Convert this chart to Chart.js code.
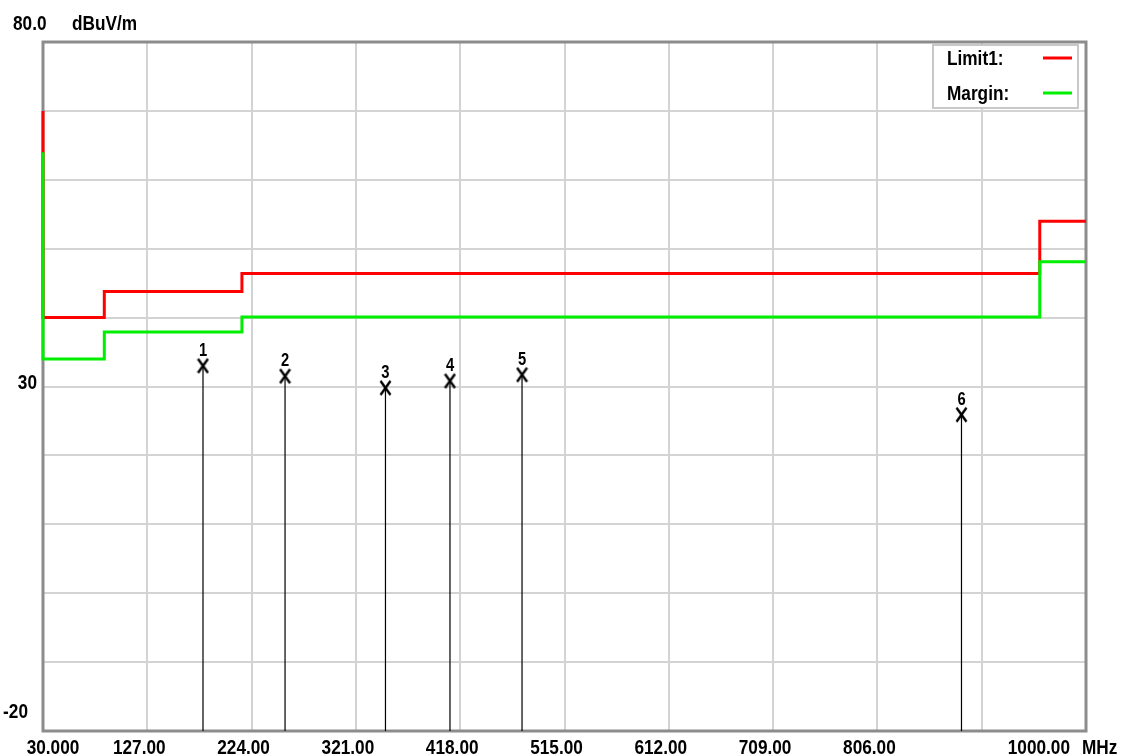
<!DOCTYPE html>
<html lang="en">
<head>
<meta charset="UTF-8">
<title>Radiated Emission</title>
<script src="https://cdn.jsdelivr.net/npm/chart.js@4.4.0/dist/chart.umd.min.js"></script>
<style>
body{margin:0;background:#fff}
#wrap{width:1123px;height:756px;position:relative}
</style>
</head>
<body>
<div id="wrap"><canvas id="emi"></canvas></div>
<script>
/* ---------- data ---------- */
const limitFreq   = [30, 30, 87, 87, 215, 215, 957, 957, 1000];
const limitLevel  = [70, 40, 40, 43.8, 43.8, 46.4, 46.4, 54, 54];
const marginLevel = [64, 34, 34, 37.9, 37.9, 40.1, 40.1, 48.1, 48.1];

const peakNo    = ['1', '2', '3', '4', '5', '6'];
const peakFreq  = [178.8, 255.1, 348.5, 408.5, 475.5, 884.2];
const peakLevel = [33.0, 31.5, 29.8, 30.8, 31.7, 25.9];

const xTicks      = [30, 127, 224, 321, 418, 515, 612, 709, 806, 1000];
const xTickLabels = ['30.000', '127.00', '224.00', '321.00', '418.00', '515.00', '612.00', '709.00', '806.00', '1000.00'];
const yTicks      = [30, -20];
const yTickLabels = ['30', '-20'];
const yTopLabel = '80.0', yUnit = 'dBuV/m', xUnit = 'MHz';
const legendNames = ['Limit1:', 'Margin:'];

/* ---------- helpers ---------- */
const FONT = "'Liberation Sans',Arial,sans-serif";
const NARROW = 0.82;   // squeeze to look like a narrow bold face
const pts = (xs, ys) => xs.map((x, i) => ({x, y: ys[i]}));
const stems = peakFreq.flatMap((f, i) => [{x: f, y: -20}, {x: f, y: peakLevel[i]}, {x: f, y: null}]);

function txt(ctx, s, x, y, align) {
  const w = ctx.measureText(s).width * NARROW;
  let left = x;
  if (align === 'center') left = x - w / 2;
  else if (align === 'right') left = x - w;
  ctx.save();
  ctx.translate(left, y);
  ctx.scale(NARROW, 1);
  ctx.textAlign = 'left';
  ctx.fillText(s, 0, 0);
  ctx.restore();
}

// "X" glyph used as point style
const xMark = document.createElement('canvas');
xMark.width = 13; xMark.height = 17;
{
  const c = xMark.getContext('2d');
  c.strokeStyle = '#000'; c.lineWidth = 2.4;
  c.beginPath(); c.moveTo(1.5, 1.5); c.lineTo(11.5, 15.5); c.moveTo(11.5, 1.5); c.lineTo(1.5, 15.5); c.stroke();
}

/* ---------- frame, labels, legend ---------- */
const decor = {
  id: 'decor',
  beforeDatasetsDraw(chart) {
    const {ctx, chartArea: a} = chart;
    ctx.save();
    ctx.strokeStyle = '#8c8c8c'; ctx.lineWidth = 3;
    ctx.strokeRect(a.left, a.top, a.right - a.left, a.bottom - a.top);
    ctx.restore();
  },
  afterDraw(chart) {
    const {ctx, chartArea: a, scales: {x, y}} = chart;
    ctx.save();
    ctx.fillStyle = '#000';
    ctx.textBaseline = 'alphabetic';
    ctx.font = 'bold 21px ' + FONT;

    // x tick labels
    xTicks.forEach((v, i) => {
      const px = x.getPixelForValue(v);
      if (i === 0) txt(ctx, xTickLabels[i], px + 10, 754, 'center');
      else if (i === xTicks.length - 1) txt(ctx, xTickLabels[i], px - 16, 754, 'right');
      else txt(ctx, xTickLabels[i], px - 8, 754, 'center');
    });
    txt(ctx, xUnit, x.getPixelForValue(1000) - 4, 754, 'left');

    // y tick labels
    const yOff = [[-6, 2], [-15, -13]];
    yTicks.forEach((v, i) => {
      txt(ctx, yTickLabels[i], a.left + yOff[i][0], y.getPixelForValue(v) + yOff[i][1], 'right');
    });
    txt(ctx, yTopLabel, 13, 30, 'left');
    txt(ctx, yUnit, 72, 30, 'left');

    // peak numbers
    const meta = chart.getDatasetMeta(3);
    ctx.font = 'bold 18px ' + FONT;
    meta.data.forEach((p, i) => txt(ctx, peakNo[i], p.x, p.y - 10, 'center'));

    // legend box
    ctx.strokeStyle = '#c8c8c8'; ctx.lineWidth = 2;
    ctx.fillStyle = '#fff';
    ctx.fillRect(933, 45, 145, 63);
    ctx.strokeRect(933, 45, 145, 63);
    ctx.fillStyle = '#000';
    ctx.font = 'bold 21px ' + FONT;
    const cols = ['#ff0000', '#00ee00'];
    [65, 100].forEach((by, i) => {
      txt(ctx, legendNames[i], 947, by, 'left');
      ctx.strokeStyle = cols[i]; ctx.lineWidth = 3;
      ctx.beginPath(); ctx.moveTo(1043, by - 7); ctx.lineTo(1072, by - 7); ctx.stroke();
    });
    ctx.restore();
  }
};

/* ---------- chart ---------- */
new Chart(document.getElementById('emi'), {
  type: 'line',
  data: {
    datasets: [
      {label: 'Limit1', data: pts(limitFreq, limitLevel), borderColor: '#ff0000', borderWidth: 3,
       pointRadius: 0, tension: 0, clip: false, order: 2},
      {label: 'Margin', data: pts(limitFreq, marginLevel), borderColor: '#00ee00', borderWidth: 3,
       pointRadius: 0, tension: 0, clip: false, order: 1},
      {label: 'stems', data: stems, borderColor: '#000', borderWidth: 1.2, pointRadius: 0,
       spanGaps: false, order: 3},
      {label: 'peaks', data: pts(peakFreq, peakLevel), showLine: false, pointStyle: xMark,
       pointRadius: 6, order: 0}
    ]
  },
  options: {
    responsive: true, maintainAspectRatio: false, animation: false,
    layout: {padding: {left: 43, top: 42, right: 37, bottom: 25}},
    plugins: {legend: {display: false}, tooltip: {enabled: false}},
    scales: {
      x: {type: 'linear', min: 30, max: 1000,
          ticks: {stepSize: 97, display: false},
          grid: {color: '#d3d3d3', lineWidth: 2, drawTicks: false},
          border: {display: false}},
      y: {min: -20, max: 80,
          ticks: {stepSize: 10, display: false},
          grid: {color: '#d3d3d3', lineWidth: 2, drawTicks: false},
          border: {display: false}}
    }
  },
  plugins: [decor]
});
</script>
</body>
</html>
